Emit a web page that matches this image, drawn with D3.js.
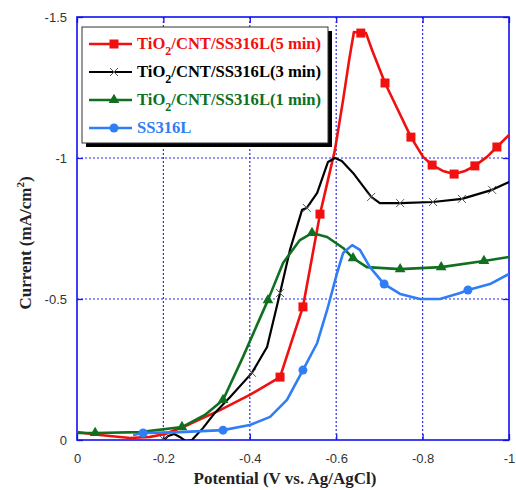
<!DOCTYPE html>
<html>
<head>
<meta charset="utf-8">
<script src="https://cdn.jsdelivr.net/npm/d3@7"></script>
<style>
  body { margin: 0; background: #fff; }
  svg { display: block; }
</style>
</head>
<body>
<div id="chart"></div>
<script>
// Potential (V vs. Ag/AgCl) and current (mA/cm2)
var xTicks = [0, -0.2, -0.4, -0.6, -0.8, -1];
var yTicks = [0, -0.5, -1, -1.5];

var red5Potential = [0, -0.053, -0.123, -0.169, -0.204, -0.262, -0.331, -0.400, -0.470, -0.498, -0.523, -0.5625, -0.597, -0.616, -0.630, -0.641, -0.657, -0.669, -0.683, -0.713, -0.743, -0.773, -0.801, -0.822, -0.847, -0.873, -0.898, -0.921, -0.949, -0.972, -1.0];
var red5Current = [-0.028, -0.018, -0.007, -0.011, -0.021, -0.057, -0.106, -0.160, -0.223, -0.355, -0.472, -0.801, -1.028, -1.206, -1.348, -1.447, -1.443, -1.443, -1.383, -1.266, -1.170, -1.074, -1.004, -0.975, -0.954, -0.943, -0.954, -0.972, -1.004, -1.039, -1.082];
var red5Markers = [8, 10, 11, 16, 19, 21, 23, 25, 27, 29];

var black3Potential = [-0.185, -0.201, -0.211, -0.225, -0.238, -0.252, -0.266, -0.292, -0.319, -0.354, -0.405, -0.440, -0.470, -0.493, -0.521, -0.532, -0.556, -0.581, -0.597, -0.613, -0.639, -0.681, -0.701, -0.748, -0.824, -0.891, -0.961, -1.0];
var black3Current = [0.02, 0, -0.014, -0.021, -0.011, 0.004, 0, -0.043, -0.096, -0.152, -0.238, -0.330, -0.521, -0.674, -0.816, -0.823, -0.876, -0.986, -1.0, -0.989, -0.947, -0.862, -0.840, -0.840, -0.844, -0.855, -0.887, -0.915];
var black3Markers = [1, 10, 12, 15, 21, 23, 24, 25, 26];

var green1Potential = [0, -0.042, -0.146, -0.243, -0.296, -0.338, -0.384, -0.442, -0.477, -0.516, -0.544, -0.579, -0.616, -0.639, -0.671, -0.748, -0.843, -0.942, -1.0];
var green1Current = [-0.025, -0.025, -0.028, -0.046, -0.089, -0.142, -0.294, -0.496, -0.628, -0.709, -0.734, -0.720, -0.681, -0.645, -0.613, -0.606, -0.613, -0.635, -0.649];
var green1Markers = [1, 3, 5, 7, 10, 13, 15, 16, 17];

var ssPotential = [-0.130, -0.153, -0.238, -0.338, -0.400, -0.447, -0.486, -0.523, -0.556, -0.579, -0.602, -0.616, -0.637, -0.655, -0.678, -0.711, -0.748, -0.794, -0.840, -0.887, -0.905, -0.956, -1.0];
var ssCurrent = [-0.018, -0.025, -0.028, -0.035, -0.053, -0.082, -0.142, -0.248, -0.344, -0.461, -0.592, -0.663, -0.691, -0.674, -0.613, -0.553, -0.518, -0.500, -0.500, -0.521, -0.532, -0.553, -0.589];
var ssMarkers = [1, 3, 7, 15, 20];

var seriesNames = ["(5 min)", "(3 min)", "(1 min)", "SS316L"];

var width = 516,
    height = 490,
    margin = { top: 17, right: 7, bottom: 50, left: 77 },
    w = width - margin.left - margin.right,
    h = height - margin.top - margin.bottom;

var svg = d3.select("#chart").append("svg")
    .attr("width", width)
    .attr("height", height);

var g = svg.append("g")
    .attr("transform", "translate(" + margin.left + "," + margin.top + ")");

var x = d3.scaleLinear().domain([0, -1]).range([0, w]);
var y = d3.scaleLinear().domain([0, -1.5]).range([h, 0]);

var gridColor = "#2b2bf0";

// dotted grid lines
g.selectAll(".vgrid")
    .data(xTicks.slice(1, -1))
    .enter().append("line")
    .attr("x1", function (d) { return x(d); })
    .attr("x2", function (d) { return x(d); })
    .attr("y1", 0)
    .attr("y2", h)
    .attr("stroke", gridColor)
    .attr("stroke-width", 1.2)
    .attr("stroke-dasharray", "2,2");

g.selectAll(".hgrid")
    .data(yTicks.slice(1, -1))
    .enter().append("line")
    .attr("x1", 0)
    .attr("x2", w)
    .attr("y1", function (d) { return y(d); })
    .attr("y2", function (d) { return y(d); })
    .attr("stroke", gridColor)
    .attr("stroke-width", 1.2)
    .attr("stroke-dasharray", "2,2");

// axes, ticks pointing inwards
function styleAxis(sel) {
    sel.select(".domain").remove();
    sel.selectAll(".tick line").attr("stroke", "#1a1aee").attr("stroke-width", 1.3);
    sel.selectAll(".tick text")
        .attr("fill", "#333")
        .style("font-family", "Liberation Sans, Arial, sans-serif")
        .style("font-size", "13px");
}
var fmt = function (d) { return d === 0 ? "0" : String(d); };

g.append("g")
    .attr("transform", "translate(0," + h + ")")
    .call(d3.axisBottom(x).tickValues(xTicks).tickFormat(fmt).tickSizeInner(-6).tickSizeOuter(0).tickPadding(14))
    .call(styleAxis);

g.append("g")
    .call(d3.axisTop(x).tickValues(xTicks).tickFormat("").tickSizeInner(-6).tickSizeOuter(0))
    .call(styleAxis);

g.append("g")
    .call(d3.axisLeft(y).tickValues(yTicks).tickFormat(fmt).tickSizeInner(-6).tickSizeOuter(0).tickPadding(10))
    .call(styleAxis);

g.append("g")
    .attr("transform", "translate(" + w + ",0)")
    .call(d3.axisRight(y).tickValues(yTicks).tickFormat("").tickSizeInner(-6).tickSizeOuter(0))
    .call(styleAxis);

g.append("rect")
    .attr("width", w)
    .attr("height", h)
    .attr("fill", "none")
    .attr("stroke", "#1010f0")
    .attr("stroke-width", 1.6);

// clip
svg.append("defs").append("clipPath").attr("id", "plotclip")
    .append("rect").attr("width", w).attr("height", h);

var plot = g.append("g").attr("clip-path", "url(#plotclip)");

var line = d3.line()
    .x(function (d) { return x(d[0]); })
    .y(function (d) { return y(d[1]); });

function zip(a, b) { return a.map(function (v, i) { return [v, b[i]]; }); }

var series = [
    { pts: zip(red5Potential, red5Current), marks: red5Markers, color: "#f01010", width: 2.6, symbol: "square" },
    { pts: zip(black3Potential, black3Current), marks: black3Markers, color: "#000000", width: 2.2, symbol: "x" },
    { pts: zip(green1Potential, green1Current), marks: green1Markers, color: "#10701f", width: 2.6, symbol: "triangle" },
    { pts: zip(ssPotential, ssCurrent), marks: ssMarkers, color: "#2f7ef5", width: 2.6, symbol: "circle" }
];

function drawMarker(sel, s, cx, cy) {
    if (s.symbol === "square") {
        sel.append("rect").attr("x", cx - 4.5).attr("y", cy - 4.5).attr("width", 9).attr("height", 9).attr("fill", s.color);
    } else if (s.symbol === "x") {
        sel.append("path")
            .attr("d", "M" + (cx - 4) + "," + (cy - 4) + "L" + (cx + 4) + "," + (cy + 4) + "M" + (cx - 4) + "," + (cy + 4) + "L" + (cx + 4) + "," + (cy - 4))
            .attr("stroke", "#555").attr("stroke-width", 1);
    } else if (s.symbol === "triangle") {
        sel.append("path")
            .attr("d", d3.symbol().type(d3.symbolTriangle).size(50)())
            .attr("transform", "translate(" + cx + "," + cy + ")")
            .attr("fill", s.color);
    } else {
        sel.append("circle").attr("cx", cx).attr("cy", cy).attr("r", 4.5).attr("fill", s.color);
    }
}

series.forEach(function (s) {
    plot.append("path")
        .datum(s.pts)
        .attr("d", line)
        .attr("fill", "none")
        .attr("stroke", s.color)
        .attr("stroke-width", s.width)
        .attr("stroke-linejoin", "round");
    s.marks.forEach(function (i) {
        drawMarker(plot, s, x(s.pts[i][0]), y(s.pts[i][1]));
    });
});

// legend
var lg = svg.append("g").attr("transform", "translate(82,27)");
lg.append("rect").attr("x", 4).attr("y", 4).attr("width", 246).attr("height", 116).attr("fill", "#000");
lg.append("rect").attr("width", 246).attr("height", 116).attr("fill", "#fff").attr("stroke", "#333").attr("stroke-width", 1);

series.forEach(function (s, i) {
    var ly = 17 + i * 28;
    lg.append("line").attr("x1", 7).attr("x2", 50).attr("y1", ly).attr("y2", ly)
        .attr("stroke", s.color).attr("stroke-width", s.width);
    drawMarker(lg, s, 32, ly);
    var t = lg.append("text")
        .attr("x", 55)
        .attr("y", ly + 5)
        .attr("fill", s.color)
        .style("font-family", "Liberation Serif, Times New Roman, serif")
        .style("font-weight", "bold")
        .style("font-size", "16.6px");
    if (i < 3) {
        t.append("tspan").text("TiO");
        t.append("tspan").attr("dy", 6).style("font-size", "12px").text("2");
        t.append("tspan").attr("dy", -6).text("/CNT/SS316L" + seriesNames[i]);
    } else {
        t.text(seriesNames[i]);
    }
});

// axis titles
svg.append("text")
    .attr("x", margin.left + w / 2 - 8)
    .attr("y", 484)
    .attr("text-anchor", "middle")
    .attr("fill", "#222")
    .style("font-family", "Liberation Serif, Times New Roman, serif")
    .style("font-weight", "bold")
    .style("font-size", "17px")
    .text("Potential (V vs. Ag/AgCl)");

var yt = svg.append("text")
    .attr("transform", "translate(31,243) rotate(-90)")
    .attr("text-anchor", "middle")
    .attr("fill", "#222")
    .style("font-family", "Liberation Serif, Times New Roman, serif")
    .style("font-weight", "bold")
    .style("font-size", "17px");
yt.append("tspan").text("Current (mA/cm");
yt.append("tspan").attr("dy", -7).style("font-size", "11px").text("2");
yt.append("tspan").attr("dy", 7).text(")");
</script>
</body>
</html>
